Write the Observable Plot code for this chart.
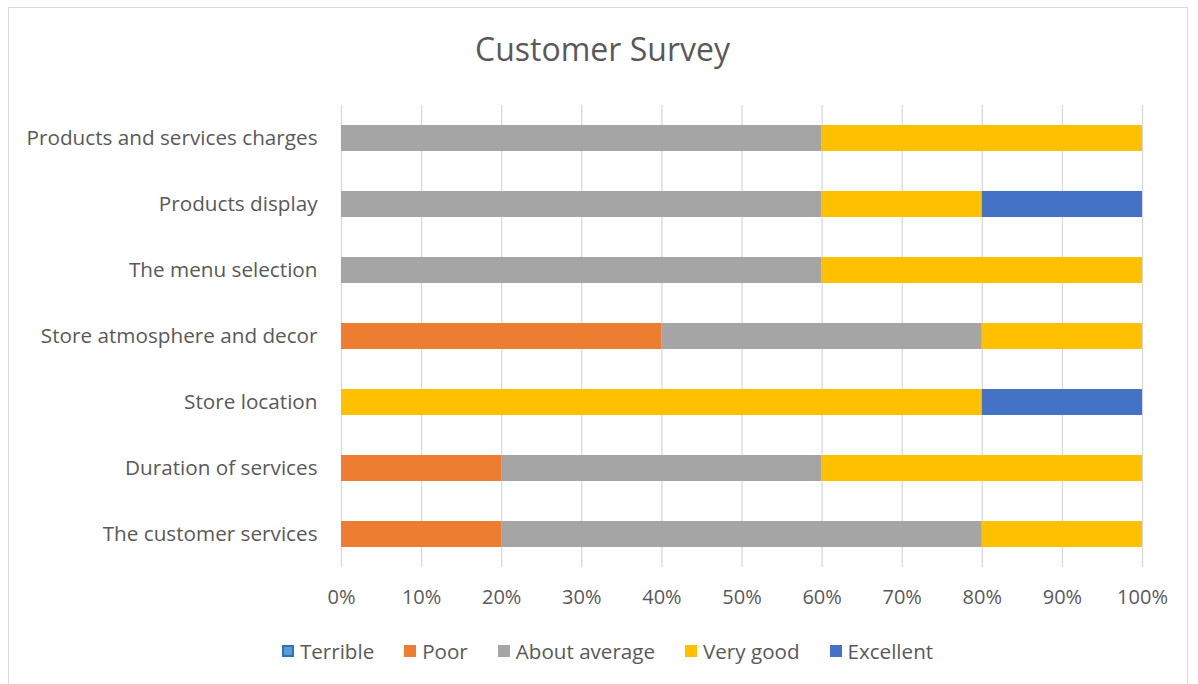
<!DOCTYPE html>
<html>
<head>
<meta charset="utf-8">
<script src="https://cdn.jsdelivr.net/npm/d3@7"></script>
<script src="https://cdn.jsdelivr.net/npm/@observablehq/plot@0.6"></script>
<style>
  html, body { margin: 0; padding: 0; background: #fff; overflow: hidden; }
  body { width: 1198px; height: 684px; position: relative; font-family: "Open Sans", sans-serif; }
  #frame { position: absolute; left: 8px; top: 7px; width: 1180px; height: 700px; border: 1px solid #d9d9d9; box-sizing: border-box; }
  #title { position: absolute; left: 0; width: 1205px; top: 27px; text-align: center; font-size: 32px; color: #595959; }
  #chart { position: absolute; left: 0; top: 0; }
  #legend { position: absolute; left: 0; width: 1215px; top: 637px; display: flex; justify-content: center; gap: 30px; font-size: 20.6px; color: #595959; }
  .item { display: flex; align-items: center; }
  .sw { width: 12px; height: 12px; margin-right: 6px; box-sizing: border-box; }
</style>
</head>
<body>
<div id="frame"></div>
<div id="title">Customer Survey</div>
<div id="chart"></div>
<div id="legend"></div>
<script>
const categories = [
  "Products and services charges",
  "Products display",
  "The menu selection",
  "Store atmosphere and decor",
  "Store location",
  "Duration of services",
  "The customer services"
];
const seriesNames = ["Terrible", "Poor", "About average", "Very good", "Excellent"];
const seriesColors = ["#5B9BD5", "#ED7D31", "#A5A5A5", "#FFC000", "#4472C4"];
const terrible     = [0,   0,   0,   0,   0,   0,   0  ];
const poor         = [0,   0,   0,   0.4, 0,   0.2, 0.2];
const aboutAverage = [0.6, 0.6, 0.6, 0.4, 0,   0.4, 0.6];
const veryGood     = [0.4, 0.2, 0.4, 0.2, 0.8, 0.4, 0.2];
const excellent    = [0,   0.2, 0,   0,   0.2, 0,   0  ];
const xTicks = [0, 0.1, 0.2, 0.3, 0.4, 0.5, 0.6, 0.7, 0.8, 0.9, 1.0];

const seriesValues = [terrible, poor, aboutAverage, veryGood, excellent];
const rows = [];
seriesNames.forEach((s, si) => {
  categories.forEach((c, ci) => {
    rows.push({category: c, series: s, value: seriesValues[si][ci]});
  });
});

const W = 1198, H = 620;
const chart = Plot.plot({
  width: W,
  height: H,
  marginLeft: 341,
  marginRight: 56,
  marginTop: 105,
  marginBottom: 53,
  style: { fontFamily: "Open Sans, sans-serif", fontSize: "20px", color: "#595959", background: "transparent" },
  x: { domain: [0, 1] },
  y: { domain: categories, paddingInner: 0.6, paddingOuter: 0.3 },
  color: { domain: seriesNames, range: seriesColors },
  marks: [
    Plot.gridX(xTicks, { stroke: "#d9d9d9", strokeOpacity: 1, strokeWidth: 1.3 }),
    Plot.barX(rows, Plot.stackX({
      y: "category", x: "value", fill: "series",
      order: seriesNames
    })),
    Plot.axisX({ ticks: xTicks, tickFormat: d => Math.round(d * 100) + "%", tickSize: 0, tickPadding: 22, fill: "#595959", fontSize: 20, label: null }),
    Plot.axisY({ tickSize: 0, tickPadding: 24, fill: "#595959", fontSize: 20.7, label: null })
  ]
});
document.getElementById("chart").appendChild(chart);

const legend = document.getElementById("legend");
seriesNames.forEach((s, i) => {
  const item = document.createElement("div");
  item.className = "item";
  const sw = document.createElement("div");
  sw.className = "sw";
  sw.style.background = seriesColors[i];
  if (i === 0) sw.style.border = "2px solid #2E75B6";
  const t = document.createElement("span");
  t.textContent = s;
  item.appendChild(sw);
  item.appendChild(t);
  legend.appendChild(item);
});
</script>
</body>
</html>
